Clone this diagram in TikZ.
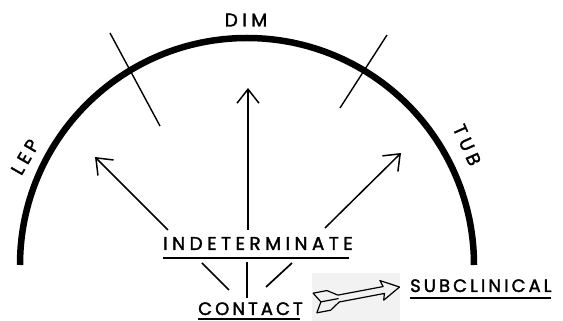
\documentclass[tikz,border=0pt]{standalone}
\usepackage{fontspec}
\newfontfamily\capsfont[LetterSpace=24, FakeBold=1.8]{Poppins}
\newfontfamily\capsnarrow[LetterSpace=17, FakeBold=1.8]{Poppins}
\usetikzlibrary{arrows.meta,positioning,calc}
\tikzset{
  lbl/.style={font=\capsfont\fontsize{18.5}{18.5}\selectfont, inner sep=0pt},
  lbln/.style={font=\capsnarrow\fontsize{18}{18}\selectfont, inner sep=0pt},
  rim/.style={line width=6.5pt},
  divider/.style={line width=1.4pt},
  ar/.style={-{Straight Barb[length=14pt,width=22pt,line width=1.5pt]}, line width=1.5pt},
  ul/.style={line width=2pt},
  spoke/.style={line width=1.7pt},
}

\begin{document}
\begin{tikzpicture}[x=1pt,y=1pt]
\useasboundingbox (0,0) rectangle (563,321);

% ================= the spectrum rim =================
\draw[rim] (20,56) arc[start angle=180, end angle=0, radius=227];
\draw[divider] (110,288) -- (160,195);
\draw[divider] (387,286) -- (340,213);

% ================= rim labels =================
\node[lbl, anchor=base] (dim) at (246,294.5) {DIM};
\node[lbl, rotate=60] (lep) at (25,164) {LEP};
\node[lbl, rotate=-66] (tub) at (467,176) {TUB};

% ================= stages =================
\node[lbl, anchor=base] (indet) at (258,71) {INDETERMINATE};
\node[lbln, anchor=base west] (contact) at (198,6) {CONTACT};
\node[lbln, anchor=base west] (subclin) at (410,29) {SUBCLINICAL};

% underlines
\draw[ul] ([yshift=-8pt]indet.base west) -- ([xshift=-4pt,yshift=-8pt]indet.base east);
\draw[ul] ([yshift=-4pt]contact.base west) -- ([xshift=-3pt,yshift=-4pt]contact.base east);
\draw[ul] ([yshift=-6pt]subclin.base west) -- ([xshift=-1pt,yshift=-6pt]subclin.base east);

% ================= contact -> indeterminate =================
\coordinate (sl1) at (229,31);  \coordinate (sl2) at (202,58);
\coordinate (sm1) at (247,23);  \coordinate (sm2) at (247,59);
\coordinate (sr1) at (266,34);  \coordinate (sr2) at (292,58);
\draw[spoke] (sl1) -- (sl2);
\draw[spoke] (sm1) -- (sm2);
\draw[spoke] (sr1) -- (sr2);

% ================= indeterminate -> rim =================
\coordinate (toLep) at (95,164);
\coordinate (toDim) at (248,233);
\coordinate (toTub) at (401,168);
\draw[ar] ([xshift=-90pt,yshift=20pt]indet.base) -- (toLep);
\draw[ar] ([xshift=-10pt,yshift=20pt]indet.base) -- (toDim);
\draw[ar] ([xshift=67pt,yshift=22pt]indet.base) -- (toTub);

% ================= contact -> subclinical (dart) =================
\fill[black!5] (312,0) rectangle (400,48);
\begin{scope}[shift={(315,18)}, rotate=10.7, line width=1.2pt, line join=round]
  \draw (24,3.5) -- (70,3.5) -- (68,10) -- (86,0) -- (68,-10) -- (70,-3.5) -- (24,-3.5)
        -- (14,-10) -- (0,-10) -- (6,0) -- (0,10) -- (14,10) -- cycle;
  \draw (6,0) -- (24,0);
\end{scope}

\end{tikzpicture}
\end{document}
